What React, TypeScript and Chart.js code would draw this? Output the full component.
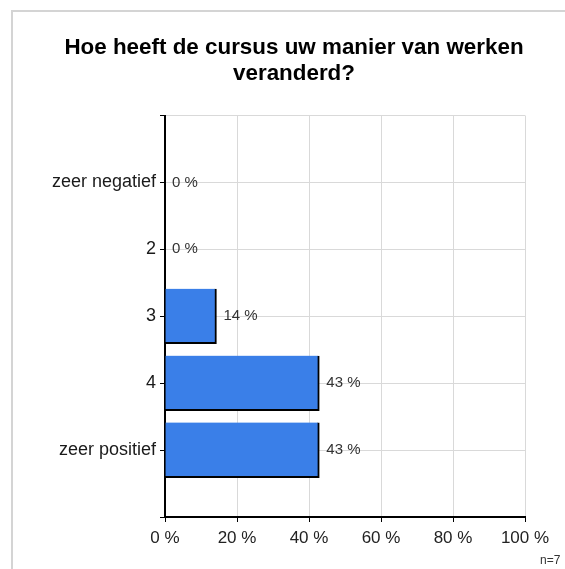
import React, { useEffect, useRef } from 'react';
import { Chart, registerables } from 'chart.js';

Chart.register(...registerables);

const FONT = "'Liberation Sans', Arial, sans-serif";

const titleLines = ['Hoe heeft de cursus uw manier van werken', 'veranderd?'];
const categories = ['', 'zeer negatief', '2', '3', '4', 'zeer positief', ''];
const percentages: (number | null)[] = [null, 0, 0, 14.29, 42.86, 42.86, null];
const xMin = 0;
const xMax = 100;
const xStep = 20;
const sampleNote = 'n=7';

const TRANSPARENT = 'rgba(0,0,0,0)';
const GRID = '#d9d9d9';

export default function App() {
  const canvasRef = useRef<HTMLCanvasElement | null>(null);

  useEffect(() => {
    const canvas = canvasRef.current;
    if (!canvas) return;

    const framePlugin = {
      id: 'frame',
      beforeDraw(chart: any) {
        const ctx = chart.ctx;
        ctx.save();
        ctx.fillStyle = '#d4d4d4';
        ctx.fillRect(11, 10, 560, 2);
        ctx.fillRect(11, 10, 2, 565);
        ctx.restore();
      },
    };

    const titlePlugin = {
      id: 'centredTitle',
      afterDraw(chart: any) {
        const ctx = chart.ctx;
        ctx.save();
        ctx.font = `bold 22.4px ${FONT}`;
        ctx.fillStyle = '#000';
        ctx.textAlign = 'center';
        ctx.textBaseline = 'middle';
        titleLines.forEach((line, i) => {
          ctx.fillText(line, 294, 47.5 + i * 26);
        });
        ctx.restore();
      },
    };

    const valueLabelPlugin = {
      id: 'valueLabels',
      afterDatasetsDraw(chart: any) {
        const ctx = chart.ctx;
        const meta = chart.getDatasetMeta(0);
        ctx.save();
        ctx.font = `15px ${FONT}`;
        ctx.fillStyle = '#333';
        ctx.textAlign = 'left';
        ctx.textBaseline = 'middle';
        meta.data.forEach((bar: any, i: number) => {
          const v = percentages[i];
          if (v === null || v === undefined) return;
          ctx.fillText(`${Math.round(v)} %`, bar.x + 7, bar.y);
        });
        ctx.restore();
      },
    };

    const notePlugin = {
      id: 'note',
      afterDraw(chart: any) {
        const ctx = chart.ctx;
        ctx.save();
        ctx.font = `12px ${FONT}`;
        ctx.fillStyle = '#333';
        ctx.textAlign = 'left';
        ctx.textBaseline = 'middle';
        ctx.fillText(sampleNote, 540, 561);
        ctx.restore();
      },
    };

    const chart = new Chart(canvas, {
      type: 'bar',
      data: {
        labels: categories,
        datasets: [
          {
            data: percentages as any,
            backgroundColor: '#3a7fe8',
            borderColor: '#000',
            borderWidth: { top: 0, left: 0, right: 2, bottom: 2 } as any,
            borderSkipped: false,
            barThickness: 55,
          },
        ],
      },
      options: {
        indexAxis: 'y',
        responsive: false,
        animation: false,
        layout: { padding: { left: 0, right: 40, top: 115.5, bottom: 0 } },
        plugins: {
          legend: { display: false },
          tooltip: { enabled: false },
          title: { display: false },
        },
        scales: {
          x: {
            type: 'linear',
            min: xMin,
            max: xMax,
            ticks: {
              stepSize: xStep,
              callback: (v: any) => `${v} %`,
              font: { family: FONT, size: 17 },
              color: '#222',
              padding: 6,
            },
            grid: {
              color: (c: any) => (c.index === 0 ? TRANSPARENT : GRID),
              tickColor: '#000',
              tickLength: 5,
              lineWidth: 1,
            },
            border: { display: true, color: '#000', width: 2 },
            afterFit: (s: any) => {
              s.height = 52;
              s.paddingLeft = 0;
              s.paddingRight = 0;
            },
          },
          y: {
            type: 'category',
            offset: false,
            ticks: {
              autoSkip: false,
              font: { family: FONT, size: 18 },
              color: '#1a1a1a',
              padding: 4,
            },
            grid: {
              offset: false,
              color: (c: any) => (c.index === categories.length - 1 ? TRANSPARENT : GRID),
              tickColor: '#000',
              tickLength: 5,
              lineWidth: 1,
            },
            border: { display: true, color: '#000', width: 2 },
            afterFit: (s: any) => {
              s.width = 165;
              s.paddingTop = 0;
              s.paddingBottom = 0;
            },
          },
        },
      } as any,
      plugins: [framePlugin, valueLabelPlugin, titlePlugin, notePlugin],
    });

    return () => chart.destroy();
  }, []);

  return (
    <div style={{ position: 'absolute', left: 0, top: 0, width: 565, height: 569, background: '#fff' }}>
      <canvas ref={canvasRef} width={565} height={569} style={{ width: 565, height: 569, display: 'block' }} />
    </div>
  );
}
